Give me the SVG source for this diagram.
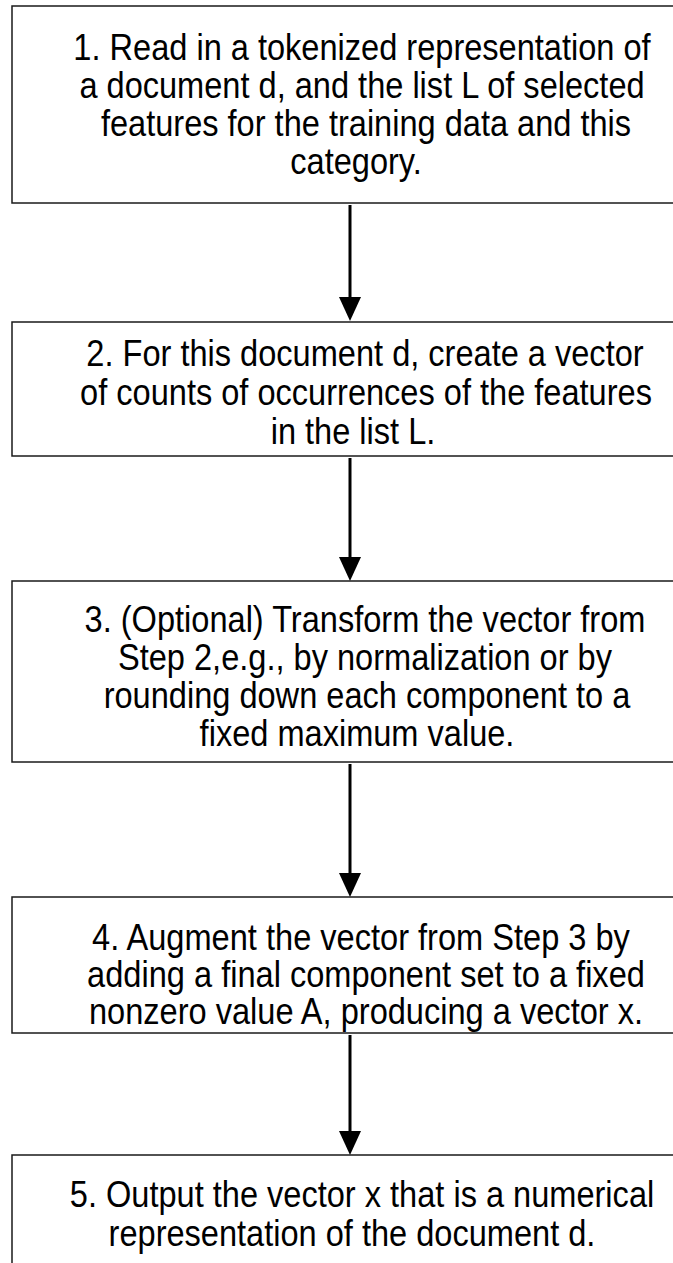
<svg xmlns="http://www.w3.org/2000/svg" width="673" height="1263" viewBox="0 0 673 1263">
  <style>
    .box { fill: #ffffff; stroke: #1a1a1a; stroke-width: 1.5; }
    .lbl { font-family: "Liberation Sans", Arial, sans-serif; font-size: 37px; fill: #000000; text-anchor: middle; }
    .lbl4 { font-size: 36px; }
    .conn { stroke: #000000; stroke-width: 3; fill: none; marker-end: url(#arrow); }
  </style>
  <defs>
    <marker id="arrow" viewBox="0 0 24 22" refX="18" refY="11" markerWidth="24" markerHeight="22" markerUnits="userSpaceOnUse" orient="auto">
      <path d="M0,0 L24,11 L0,22 Z" fill="#000000"/>
    </marker>
  </defs>
  <rect width="673" height="1263" fill="#ffffff"/>

  <g id="connectors">
    <line class="conn" x1="350" y1="205" x2="350" y2="315"/>
    <line class="conn" x1="350" y1="458" x2="350" y2="575"/>
    <line class="conn" x1="350" y1="764" x2="350" y2="891"/>
    <line class="conn" x1="350" y1="1035" x2="350" y2="1149"/>
  </g>

  <g id="node1">
    <rect class="box" x="12" y="6" width="662" height="197"/>
    <text class="lbl" transform="translate(362,60) scale(0.88,1)">1. Read in a tokenized representation of</text>
    <text class="lbl" transform="translate(362,98) scale(0.88,1)">a document d, and the list L of selected</text>
    <text class="lbl" transform="translate(366,136) scale(0.88,1)">features for the training data and this</text>
    <text class="lbl" transform="translate(356,174) scale(0.88,1)">category.</text>
  </g>

  <g id="node2">
    <rect class="box" x="12" y="322" width="662" height="134"/>
    <text class="lbl" transform="translate(365,366) scale(0.88,1)">2. For this document d, create a vector</text>
    <text class="lbl" transform="translate(366,405) scale(0.88,1)">of counts of occurrences of the features</text>
    <text class="lbl" transform="translate(353,444) scale(0.88,1)">in the list L.</text>
  </g>

  <g id="node3">
    <rect class="box" x="12" y="581" width="662" height="181"/>
    <text class="lbl" transform="translate(365,632) scale(0.88,1)">3. (Optional) Transform the vector from</text>
    <text class="lbl" transform="translate(365,670) scale(0.88,1)">Step 2,e.g., by normalization or by</text>
    <text class="lbl" transform="translate(367,708) scale(0.88,1)">rounding down each component to a</text>
    <text class="lbl" transform="translate(357,746) scale(0.88,1)">fixed maximum value.</text>
  </g>

  <g id="node4">
    <rect class="box" x="12" y="897" width="662" height="136"/>
    <text class="lbl lbl4" transform="translate(361,950) scale(0.905,1)">4. Augment the vector from Step 3 by</text>
    <text class="lbl lbl4" transform="translate(366,987) scale(0.905,1)">adding a final component set to a fixed</text>
    <text class="lbl lbl4" transform="translate(366,1024) scale(0.905,1)">nonzero value A, producing a vector x.</text>
  </g>

  <g id="node5">
    <rect class="box" x="12" y="1155" width="662" height="120"/>
    <text class="lbl" transform="translate(362,1207) scale(0.88,1)">5. Output the vector x that is a numerical</text>
    <text class="lbl" transform="translate(352,1246) scale(0.88,1)">representation of the document d.</text>
  </g>
</svg>
